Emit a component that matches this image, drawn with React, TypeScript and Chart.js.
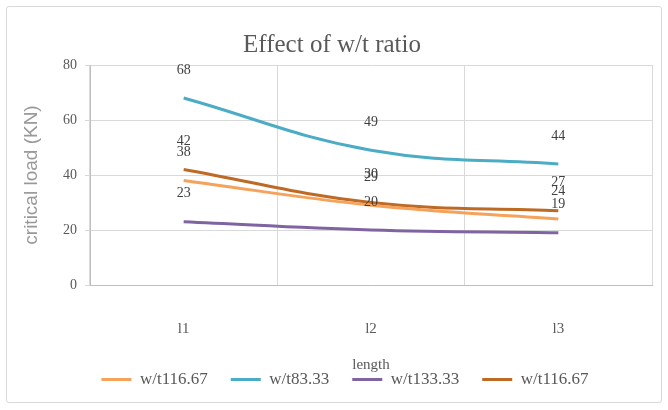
import React, { useEffect, useRef } from "react";
import { Chart, registerables } from "chart.js";

Chart.register(...registerables);

const categories = ["l1", "l2", "l3"];
const seriesNames = ["w/t116.67", "w/t83.33", "w/t133.33", "w/t116.67"];
const seriesA = [38, 29, 24];
const seriesB = [68, 49, 44];
const seriesC = [23, 20, 19];
const seriesD = [42, 30, 27];
const seriesColors = ["#F5A25A", "#4BACC6", "#8064A2", "#BF6A24"];
const yTicks = [0, 20, 40, 60, 80];

const valueLabels = {
  id: "valueLabels",
  afterDatasetsDraw(chart: any) {
    const ctx = chart.ctx;
    ctx.save();
    ctx.font = "14px 'Liberation Serif', serif";
    ctx.fillStyle = "#404040";
    ctx.textAlign = "center";
    ctx.textBaseline = "middle";
    chart.data.datasets.forEach((ds: any, i: number) => {
      const meta = chart.getDatasetMeta(i);
      meta.data.forEach((pt: any, j: number) => {
        ctx.fillText(String(ds.data[j]), pt.x, pt.y - 28);
      });
    });
    ctx.restore();
  },
};

const legendShift = {
  id: "legendShift",
  afterLayout(chart: any) {
    const lg = chart.legend;
    if (lg) {
      lg.left += 13;
      lg.right += 13;
    }
  },
};

const xTitle = {
  id: "xTitle",
  afterDraw(chart: any) {
    const ctx = chart.ctx;
    const area = chart.chartArea;
    const legend = chart.legend;
    ctx.save();
    ctx.font = "15px 'Liberation Serif', serif";
    ctx.fillStyle = "#595959";
    ctx.textAlign = "center";
    ctx.textBaseline = "alphabetic";
    ctx.fillText("length", (area.left + area.right) / 2, legend.top + 21);
    ctx.restore();
  },
};

export default function App() {
  const ref = useRef<HTMLCanvasElement>(null);
  useEffect(() => {
    document.body.style.margin = "0";
    const mk = (data: number[], i: number) => ({
      label: seriesNames[i],
      data,
      borderColor: seriesColors[i],
      backgroundColor: seriesColors[i],
      borderWidth: 3,
      pointRadius: 0,
      tension: 0.4,
      fill: false,
    });
    const chart = new Chart(ref.current as HTMLCanvasElement, {
      type: "line",
      data: {
        labels: categories,
        datasets: [mk(seriesA, 0), mk(seriesB, 1), mk(seriesC, 2), mk(seriesD, 3)],
      },
      options: {
        animation: false,
        responsive: false,
        layout: { padding: { left: 12, right: 16, top: 0, bottom: 12 } },
        plugins: {
          title: {
            display: true,
            text: "Effect of w/t ratio",
            color: "#595959",
            font: { family: "'Liberation Serif', serif", size: 25, weight: "normal" },
            padding: { top: 30, bottom: 5 },
          },
          legend: {
            position: "bottom",
            labels: {
              usePointStyle: true,
              pointStyle: "line",
              pointStyleWidth: 30,
              color: "#595959",
              font: { family: "'Liberation Serif', serif", size: 17 },
              padding: 23,
            },
          },
          tooltip: { enabled: false },
        },
        scales: {
          x: {
            offset: true,
            grid: { offset: true, color: "#D9D9D9", drawTicks: false },
            border: { color: "#BFBFBF" },
            ticks: {
              color: "#595959",
              font: { family: "'Liberation Serif', serif", size: 15 },
              padding: 35,
            },
            afterFit: (s: any) => {
              s.height = 63;
            },
          },
          y: {
            min: 0,
            max: 80,
            afterBuildTicks: (s: any) => {
              s.ticks = yTicks.map((v) => ({ value: v }));
            },
            grid: { color: "#D9D9D9", tickLength: 5 },
            border: { color: "#BFBFBF" },
            ticks: {
              color: "#595959",
              font: { family: "'Liberation Serif', serif", size: 14 },
              padding: 8,
            },
            title: {
              display: true,
              text: "critical load (KN)",
              color: "#999999",
              font: { family: "'Liberation Sans', sans-serif", size: 19 },
              padding: { top: 8, bottom: 8 },
            },
            afterFit: (s: any) => {
              s.width = 78;
            },
          },
        },
      },
      plugins: [valueLabels, legendShift, xTitle],
    } as any);
    return () => chart.destroy();
  }, []);
  return (
    <div style={{ position: "relative", width: 668, height: 410, background: "#fff" }}>
      <div
        style={{
          position: "absolute",
          left: 6,
          top: 6,
          width: 656,
          height: 397,
          border: "1px solid #D9D9D9",
          borderRadius: 3,
          boxSizing: "border-box",
        }}
      />
      <canvas ref={ref} width={668} height={410} style={{ position: "absolute", left: 0, top: 0 }} />
    </div>
  );
}
